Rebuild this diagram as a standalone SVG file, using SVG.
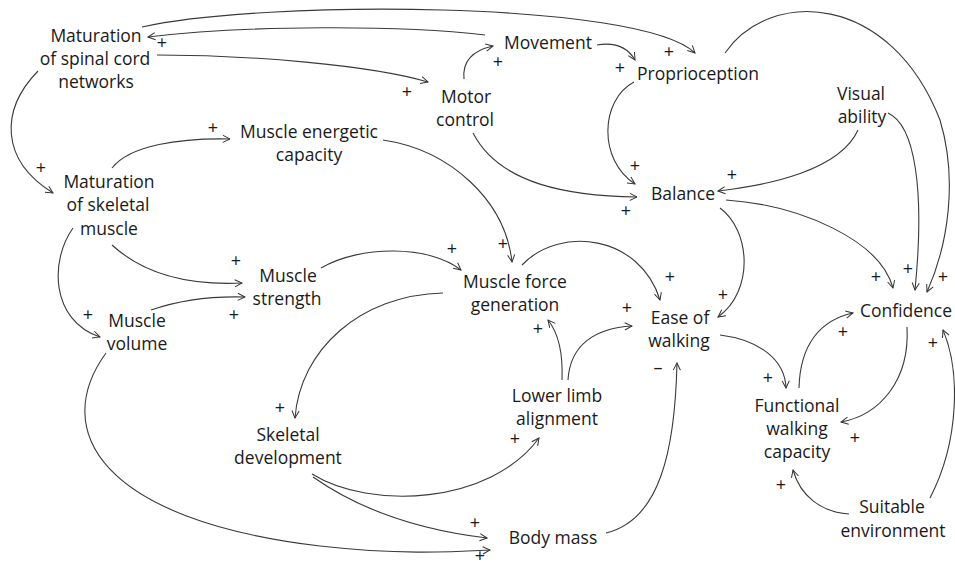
<svg xmlns="http://www.w3.org/2000/svg" width="955" height="567" viewBox="0 0 955 567">
<defs>
<marker id="arr" viewBox="0 0 10 10" refX="9" refY="5" markerWidth="9" markerHeight="9" markerUnits="userSpaceOnUse" orient="auto">
<path d="M1,1 L9,5 L1,9" fill="none" stroke="#333" stroke-width="1.1"/>
</marker>
<style>
.lbl{font-family:"Open Sans","Noto Sans","Liberation Sans",sans-serif;font-size:17.5px;fill:#1a1a1a;text-anchor:middle}
.pol{font-family:"Open Sans","Noto Sans","Liberation Sans",sans-serif;font-size:18px;fill:#1a1a1a;text-anchor:middle}
.c{fill:none;stroke:#3a3a3a;stroke-width:1.1;marker-end:url(#arr)}
</style>
</defs>
<rect width="955" height="567" fill="#fff"/>

<g id="connectors">
<path class="c" d="M142,27 C260,0 640,0 695,53"/>
<path class="c" d="M485,35 C400,25 250,25 148,37"/>
<path class="c" d="M157,55 C250,55 370,65 428,82"/>
<path class="c" d="M38,71 C0,110 0,160 53,193"/>
<path class="c" d="M112,168 C130,145 180,138 230,139"/>
<path class="c" d="M464,79 C462,60 475,50 493,46"/>
<path class="c" d="M597,45 C615,42 628,48 635,60"/>
<path class="c" d="M473,133 C500,185 570,196 637,197"/>
<path class="c" d="M634,82 C600,100 598,160 635,184"/>
<path class="c" d="M383,140 C450,150 505,200 512,262"/>
<path class="c" d="M725,53 C770,-12 890,-8 940,120 C958,180 948,245 927,292"/>
<path class="c" d="M858,130 C840,170 770,185 718,191"/>
<path class="c" d="M888,113 C915,125 925,190 915,290"/>
<path class="c" d="M726,200 C800,205 880,240 893,288"/>
<path class="c" d="M720,208 C750,230 755,290 718,317"/>
<path class="c" d="M522,265 C560,225 640,235 660,300"/>
<path class="c" d="M568,380 C570,345 595,328 632,326"/>
<path class="c" d="M562,380 C563,355 560,335 548,320"/>
<path class="c" d="M606,533 C660,520 675,450 677,363"/>
<path class="c" d="M720,335 C760,340 785,360 786,388"/>
<path class="c" d="M799,388 C800,345 820,320 853,313"/>
<path class="c" d="M907,327 C910,380 880,415 841,422"/>
<path class="c" d="M930,498 C960,440 960,370 943,330"/>
<path class="c" d="M849,514 C820,512 800,495 793,470"/>
<path class="c" d="M112,245 C150,280 200,285 242,283"/>
<path class="c" d="M151,310 C180,300 210,296 245,297"/>
<path class="c" d="M73,228 C50,260 50,320 100,337"/>
<path class="c" d="M321,268 C360,245 430,245 461,270"/>
<path class="c" d="M106,353 C50,430 100,520 320,546 C400,555 450,552 490,550"/>
<path class="c" d="M443,293 C360,295 300,350 295,418"/>
<path class="c" d="M312,474 C370,510 490,505 539,438"/>
<path class="c" d="M313,477 C360,510 420,530 487,538"/>
</g>

<g id="polarities">
<text class="pol" x="669" y="58">+</text>
<text class="pol" x="162" y="49">+</text>
<text class="pol" x="407" y="98">+</text>
<text class="pol" x="41" y="174">+</text>
<text class="pol" x="213" y="134">+</text>
<text class="pol" x="498" y="68">+</text>
<text class="pol" x="620" y="74">+</text>
<text class="pol" x="626" y="217">+</text>
<text class="pol" x="635" y="172">+</text>
<text class="pol" x="503" y="250">+</text>
<text class="pol" x="943" y="283">+</text>
<text class="pol" x="732" y="181">+</text>
<text class="pol" x="908" y="275">+</text>
<text class="pol" x="876" y="283">+</text>
<text class="pol" x="723" y="301">+</text>
<text class="pol" x="670" y="283">+</text>
<text class="pol" x="627" y="314">+</text>
<text class="pol" x="538" y="335">+</text>
<text class="pol" x="658" y="374">–</text>
<text class="pol" x="768" y="384">+</text>
<text class="pol" x="843" y="338">+</text>
<text class="pol" x="855" y="444">+</text>
<text class="pol" x="933" y="349">+</text>
<text class="pol" x="781" y="491">+</text>
<text class="pol" x="236" y="267">+</text>
<text class="pol" x="234" y="321">+</text>
<text class="pol" x="88" y="321">+</text>
<text class="pol" x="452" y="255">+</text>
<text class="pol" x="480" y="562">+</text>
<text class="pol" x="280" y="414">+</text>
<text class="pol" x="515" y="445">+</text>
<text class="pol" x="475" y="529">+</text>
</g>

<g id="node-maturation-spinal"><text class="lbl" x="96" y="42">Maturation</text><text class="lbl" x="95" y="65">of spinal cord</text><text class="lbl" x="96" y="88">networks</text></g>
<g id="node-maturation-skeletal"><text class="lbl" x="109" y="188">Maturation</text><text class="lbl" x="108" y="211">of skeletal</text><text class="lbl" x="109" y="235">muscle</text></g>
<g id="node-muscle-energetic"><text class="lbl" x="309" y="138">Muscle energetic</text><text class="lbl" x="309" y="161">capacity</text></g>
<g id="node-movement"><text class="lbl" x="548" y="49">Movement</text></g>
<g id="node-motor-control"><text class="lbl" x="466" y="103">Motor</text><text class="lbl" x="465" y="126">control</text></g>
<g id="node-proprioception"><text class="lbl" x="698" y="80">Proprioception</text></g>
<g id="node-visual-ability"><text class="lbl" x="861" y="100">Visual</text><text class="lbl" x="862" y="123">ability</text></g>
<g id="node-balance"><text class="lbl" x="683" y="200">Balance</text></g>
<g id="node-muscle-strength"><text class="lbl" x="288" y="282">Muscle</text><text class="lbl" x="287" y="305">strength</text></g>
<g id="node-muscle-volume"><text class="lbl" x="137" y="327">Muscle</text><text class="lbl" x="137" y="350">volume</text></g>
<g id="node-muscle-force"><text class="lbl" x="515" y="288">Muscle force</text><text class="lbl" x="515" y="311">generation</text></g>
<g id="node-ease-walking"><text class="lbl" x="680" y="324">Ease of</text><text class="lbl" x="679" y="347">walking</text></g>
<g id="node-confidence"><text class="lbl" x="906" y="317">Confidence</text></g>
<g id="node-lower-limb"><text class="lbl" x="557" y="402">Lower limb</text><text class="lbl" x="557" y="425">alignment</text></g>
<g id="node-skeletal-development"><text class="lbl" x="288" y="441">Skeletal</text><text class="lbl" x="288" y="464">development</text></g>
<g id="node-body-mass"><text class="lbl" x="553" y="544">Body mass</text></g>
<g id="node-functional-walking"><text class="lbl" x="797" y="412">Functional</text><text class="lbl" x="797" y="435">walking</text><text class="lbl" x="797" y="458">capacity</text></g>
<g id="node-suitable-environment"><text class="lbl" x="892" y="513">Suitable</text><text class="lbl" x="893" y="537">environment</text></g>
</svg>
